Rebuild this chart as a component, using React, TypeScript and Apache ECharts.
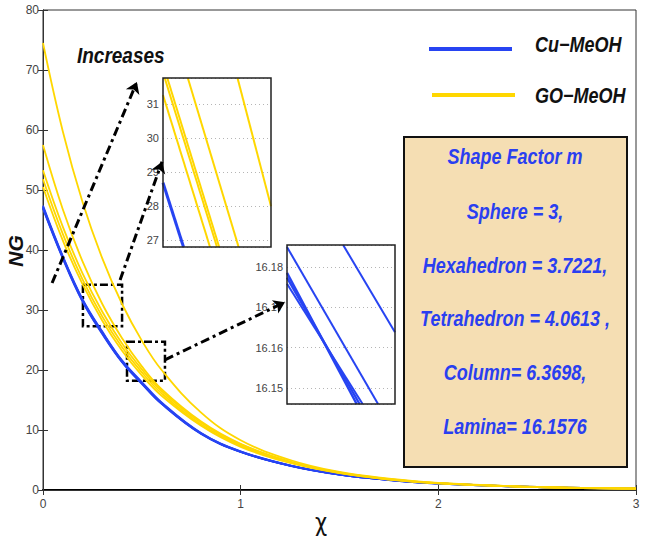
import React, { useEffect, useRef } from "react";
import * as echarts from "echarts";

// chi sample positions for main curves
const chi = [0, 0.1, 0.2, 0.3, 0.4, 0.5, 0.6, 0.8, 1.0, 1.25, 1.5, 1.75, 2.0, 2.5, 3.0];

// Cu-MeOH (blue) curves, one per shape factor
const cuSphere = [46.9, 38.6, 31.4, 26.0, 21.3, 17.7, 14.35, 9.35, 6.33, 4.04, 2.55, 1.66, 1.07, 0.49, 0.24];
const cuHexahedron = [47.0, 38.7, 31.5, 26.1, 21.35, 17.75, 14.4, 9.38, 6.35, 4.05, 2.56, 1.67, 1.08, 0.49, 0.25];
const cuTetrahedron = [47.1, 38.8, 31.6, 26.2, 21.4, 17.8, 14.45, 9.4, 6.37, 4.06, 2.57, 1.68, 1.08, 0.49, 0.25];
const cuColumn = [47.2, 38.9, 31.7, 26.3, 21.5, 17.9, 14.5, 9.45, 6.4, 4.08, 2.58, 1.69, 1.09, 0.5, 0.25];
const cuLamina = [47.4, 39.0, 31.8, 26.4, 21.6, 18.0, 14.6, 9.5, 6.45, 4.1, 2.6, 1.7, 1.1, 0.5, 0.25];

// GO-MeOH (yellow) curves
const goSphere = [50.5, 41.6, 34.3, 28.2, 23.2, 19.1, 15.7, 10.7, 7.2, 4.5, 2.8, 1.75, 1.1, 0.47, 0.24];
const goHexahedron = [51.8, 42.7, 35.1, 28.9, 23.8, 19.6, 16.1, 10.9, 7.4, 4.6, 2.85, 1.78, 1.12, 0.48, 0.24];
const goTetrahedron = [53.3, 43.9, 36.1, 29.7, 24.4, 20.1, 16.5, 11.2, 7.6, 4.7, 2.9, 1.8, 1.15, 0.5, 0.25];
const goColumn = [57.5, 46.8, 38.1, 31.0, 25.3, 20.6, 16.8, 11.4, 7.7, 4.75, 2.92, 1.82, 1.16, 0.5, 0.25];
const goLamina = [74.5, 59.8, 48.0, 38.6, 31.0, 24.9, 20.0, 12.9, 8.3, 5.0, 3.0, 1.9, 1.2, 0.5, 0.25];

// Inset 1 (yellow zoom): segments in normalized x [0,1], NG
const inset1Cu = [[0, 28.69], [0.19, 26.8]];
const inset1GoA = [[0, 31.27], [0.435, 26.8]];
const inset1GoB = [[0.016, 31.77], [0.5, 26.8]];
const inset1GoC = [[0.04, 31.77], [0.52, 26.8]];
const inset1GoD = [[0.23, 31.77], [0.7, 26.8]];
const inset1GoE = [[0.69, 31.77], [1, 28.0]];
const inset1Range = [26.8, 31.77];

// Inset 2 (blue zoom)
const inset2CuA = [[0, 16.1849], [0.843, 16.146]];
const inset2CuB = [[0.52, 16.1854], [1, 16.1638]];
const inset2CuC = [[0, 16.1785], [0.645, 16.146]];
const inset2CuD = [[0, 16.1773], [0.672, 16.146]];
const inset2CuE = [[0, 16.1758], [0.7, 16.146]];
const inset2Range = [16.146, 16.1854];

// annotations in data coordinates (chi, NG)
const box1 = [[0.202, 34.2], [0.4, 27.3]];
const box2 = [[0.425, 24.7], [0.617, 18.2]];
const arrowIncreases = [[0.046, 34.5], [0.475, 68]];
const arrowBox1 = [[0.39, 35], [0.602, 54.7]];
const arrowBox2 = [[0.617, 21.7], [1.224, 31.3]];

const shapeLines = [
  "Shape Factor m",
  "Sphere = 3,",
  "Hexahedron = 3.7221,",
  "Tetrahedron = 4.0613 ,",
  "Column= 6.3698,",
  "Lamina= 16.1576",
];

const BLUE = "#2744f2";
const YELLOW = "#ffd700";
const TEXTBLUE = "#2a3ff0";
const FONT = "Liberation Sans";

export default function App() {
  const ref = useRef<HTMLDivElement>(null);
  useEffect(() => {
    const chart = echarts.init(ref.current!, null, { renderer: "svg" });
    const toPairs = (arr: number[]) => chi.map((x, i) => [x, arr[i]]);
    const mainSeries = (name: string, arr: number[], color: string, width: number) => ({
      name,
      type: "line",
      xAxisIndex: 0,
      yAxisIndex: 0,
      data: toPairs(arr),
      smooth: 0.4,
      symbol: "none",
      lineStyle: { color, width },
      z: 2,
    });
    const insetSeries = (idx: number, data: number[][], color: string, width: number) => ({
      type: "line",
      xAxisIndex: idx,
      yAxisIndex: idx,
      data,
      symbol: "none",
      lineStyle: { color, width },
    });
    const dashArrow = [9, 4, 3, 4];
    const series: any[] = [
      {
        ...mainSeries("Cu−MeOH Sphere", cuSphere, BLUE, 1.8),
        markLine: {
          silent: true,
          symbol: ["none", "arrow"],
          symbolSize: 11,
          label: { show: false },
          lineStyle: { color: "#000", width: 3, type: dashArrow },
          data: [arrowIncreases, arrowBox1, arrowBox2].map((a) => [
            { coord: a[0] },
            { coord: a[1] },
          ]),
        },
        markArea: {
          silent: true,
          itemStyle: {
            color: "rgba(0,0,0,0)",
            borderColor: "#000",
            borderWidth: 2.5,
            borderType: [8, 3, 3, 3],
          },
          data: [box1, box2].map((b) => [{ coord: b[0] }, { coord: b[1] }]),
        },
      },
      mainSeries("Cu−MeOH Hexahedron", cuHexahedron, BLUE, 1.8),
      mainSeries("Cu−MeOH Tetrahedron", cuTetrahedron, BLUE, 1.8),
      mainSeries("Cu−MeOH Column", cuColumn, BLUE, 1.8),
      mainSeries("Cu−MeOH Lamina", cuLamina, BLUE, 1.8),
      mainSeries("GO−MeOH Sphere", goSphere, YELLOW, 1.8),
      mainSeries("GO−MeOH Hexahedron", goHexahedron, YELLOW, 1.8),
      mainSeries("GO−MeOH Tetrahedron", goTetrahedron, YELLOW, 1.8),
      mainSeries("GO−MeOH Column", goColumn, YELLOW, 1.8),
      mainSeries("GO−MeOH Lamina", goLamina, YELLOW, 1.8),
      insetSeries(2, inset1Cu, BLUE, 3),
      insetSeries(2, inset1GoA, YELLOW, 2),
      insetSeries(2, inset1GoB, YELLOW, 2),
      insetSeries(2, inset1GoC, YELLOW, 2),
      insetSeries(2, inset1GoD, YELLOW, 2),
      insetSeries(2, inset1GoE, YELLOW, 2),
      insetSeries(3, inset2CuA, BLUE, 2),
      insetSeries(3, inset2CuB, BLUE, 2),
      insetSeries(3, inset2CuC, BLUE, 2.4),
      insetSeries(3, inset2CuD, BLUE, 2.4),
      insetSeries(3, inset2CuE, BLUE, 2),
    ];

    const labelStyle = { color: "#444", fontSize: 12, fontFamily: FONT };
    const insetY = (gridIndex: number, range: number[]) => ({
      type: "value",
      gridIndex,
      min: range[0],
      max: range[1],
      splitNumber: 5,
      axisLine: { show: false },
      axisTick: { show: false },
      axisLabel: {
        color: "#444",
        fontSize: 11,
        fontFamily: FONT,
        margin: 4,
        showMinLabel: false,
        showMaxLabel: false,
      },
      splitLine: { show: true, lineStyle: { color: "#b5b5b5", type: [1, 3], width: 1 } },
    });
    const insetX = (gridIndex: number) => ({
      type: "value",
      gridIndex,
      min: 0,
      max: 1,
      show: false,
    });

    const textEl = (text: string, x: number, y: number, opts: any) => ({
      type: "text",
      x,
      y,
      scaleY: 1.2,
      z: 10,
      style: {
        text,
        fontFamily: FONT,
        fontStyle: "italic",
        fontWeight: "bold",
        verticalAlign: "middle",
        ...opts,
      },
    });

    const graphic: any[] = [
      {
        type: "rect",
        shape: { x: 404, y: 137, width: 223, height: 330 },
        style: { fill: "#f5deb3", stroke: "#111", lineWidth: 2 },
        z: 5,
      },
      ...shapeLines.map((t, i) =>
        textEl(t, 515, [156, 211, 265, 318, 372, 426][i], {
          fill: TEXTBLUE,
          fontSize: 18,
          align: "center",
        })
      ),
      {
        type: "line",
        shape: { x1: 429, y1: 49, x2: 512, y2: 49 },
        style: { stroke: BLUE, lineWidth: 4 },
        z: 10,
      },
      {
        type: "line",
        shape: { x1: 432, y1: 95, x2: 515, y2: 95 },
        style: { stroke: YELLOW, lineWidth: 4 },
        z: 10,
      },
      textEl("Cu−MeOH", 535, 44, { fill: "#111", fontSize: 18, align: "left" }),
      textEl("GO−MeOH", 535, 95, { fill: "#111", fontSize: 18, align: "left" }),
      textEl("Increases", 77, 55, { fill: "#111", fontSize: 19, align: "left" }),
      {
        type: "text",
        x: 15,
        y: 251,
        rotation: Math.PI / 2,
        z: 10,
        style: {
          text: "NG",
          fontFamily: FONT,
          fontStyle: "italic",
          fontWeight: "bold",
          fontSize: 21,
          fill: "#111",
          align: "center",
          verticalAlign: "middle",
        },
      },
      {
        type: "text",
        x: 321,
        y: 522,
        z: 10,
        scaleY: 1.15,
        style: {
          text: "χ",
          fontFamily: "DejaVu Sans",
          fontSize: 21,
          fill: "#111",
          align: "center",
          verticalAlign: "middle",
        },
      },
    ];

    const option: any = {
      animation: false,
      backgroundColor: "#fff",
      grid: [
        { left: 43, top: 10, right: 9, bottom: 49, show: true, borderColor: "#333", borderWidth: 1, outerBoundsMode: "none", containLabel: false },
        { left: 163, top: 78, width: 108, height: 169, show: true, borderColor: "#222", borderWidth: 1.5, z: 4, outerBoundsMode: "none", containLabel: false },
        { left: 287, top: 245, width: 108, height: 159, show: true, borderColor: "#222", borderWidth: 1.5, z: 4, outerBoundsMode: "none", containLabel: false },
      ],
      xAxis: [
        {
          type: "value",
          gridIndex: 0,
          min: 0,
          max: 3,
          interval: 1,
          axisLine: { show: true, lineStyle: { color: "#000", width: 2 } },
          axisTick: { inside: true, length: 5, lineStyle: { color: "#333" } },
          axisLabel: { ...labelStyle, margin: 8 },
          splitLine: { show: false },
        },
        {
          type: "value",
          gridIndex: 0,
          position: "top",
          min: 0,
          max: 3,
          interval: 1,
          axisLine: { show: true, lineStyle: { color: "#333", width: 1 } },
          axisTick: { inside: true, length: 5, lineStyle: { color: "#333" } },
          axisLabel: { show: false },
          splitLine: { show: false },
        },
        insetX(1),
        insetX(2),
      ],
      yAxis: [
        {
          type: "value",
          gridIndex: 0,
          min: 0,
          max: 80,
          interval: 10,
          axisLine: { show: true, lineStyle: { color: "#333", width: 1 } },
          axisTick: { inside: true, length: 5, lineStyle: { color: "#333" } },
          axisLabel: { ...labelStyle, margin: 4 },
          splitLine: { show: false },
        },
        {
          type: "value",
          gridIndex: 0,
          position: "right",
          min: 0,
          max: 80,
          interval: 10,
          axisLine: { show: true, lineStyle: { color: "#333", width: 1 } },
          axisTick: { inside: true, length: 5, lineStyle: { color: "#333" } },
          axisLabel: { show: false },
          splitLine: { show: false },
        },
        insetY(1, inset1Range),
        insetY(2, inset2Range),
      ],
      series,
      graphic,
    };
    chart.setOption(option);
    return () => chart.dispose();
  }, []);
  return (
    <div
      ref={ref}
      style={{ position: "fixed", left: 0, top: 0, width: 645, height: 539 }}
    />
  );
}
